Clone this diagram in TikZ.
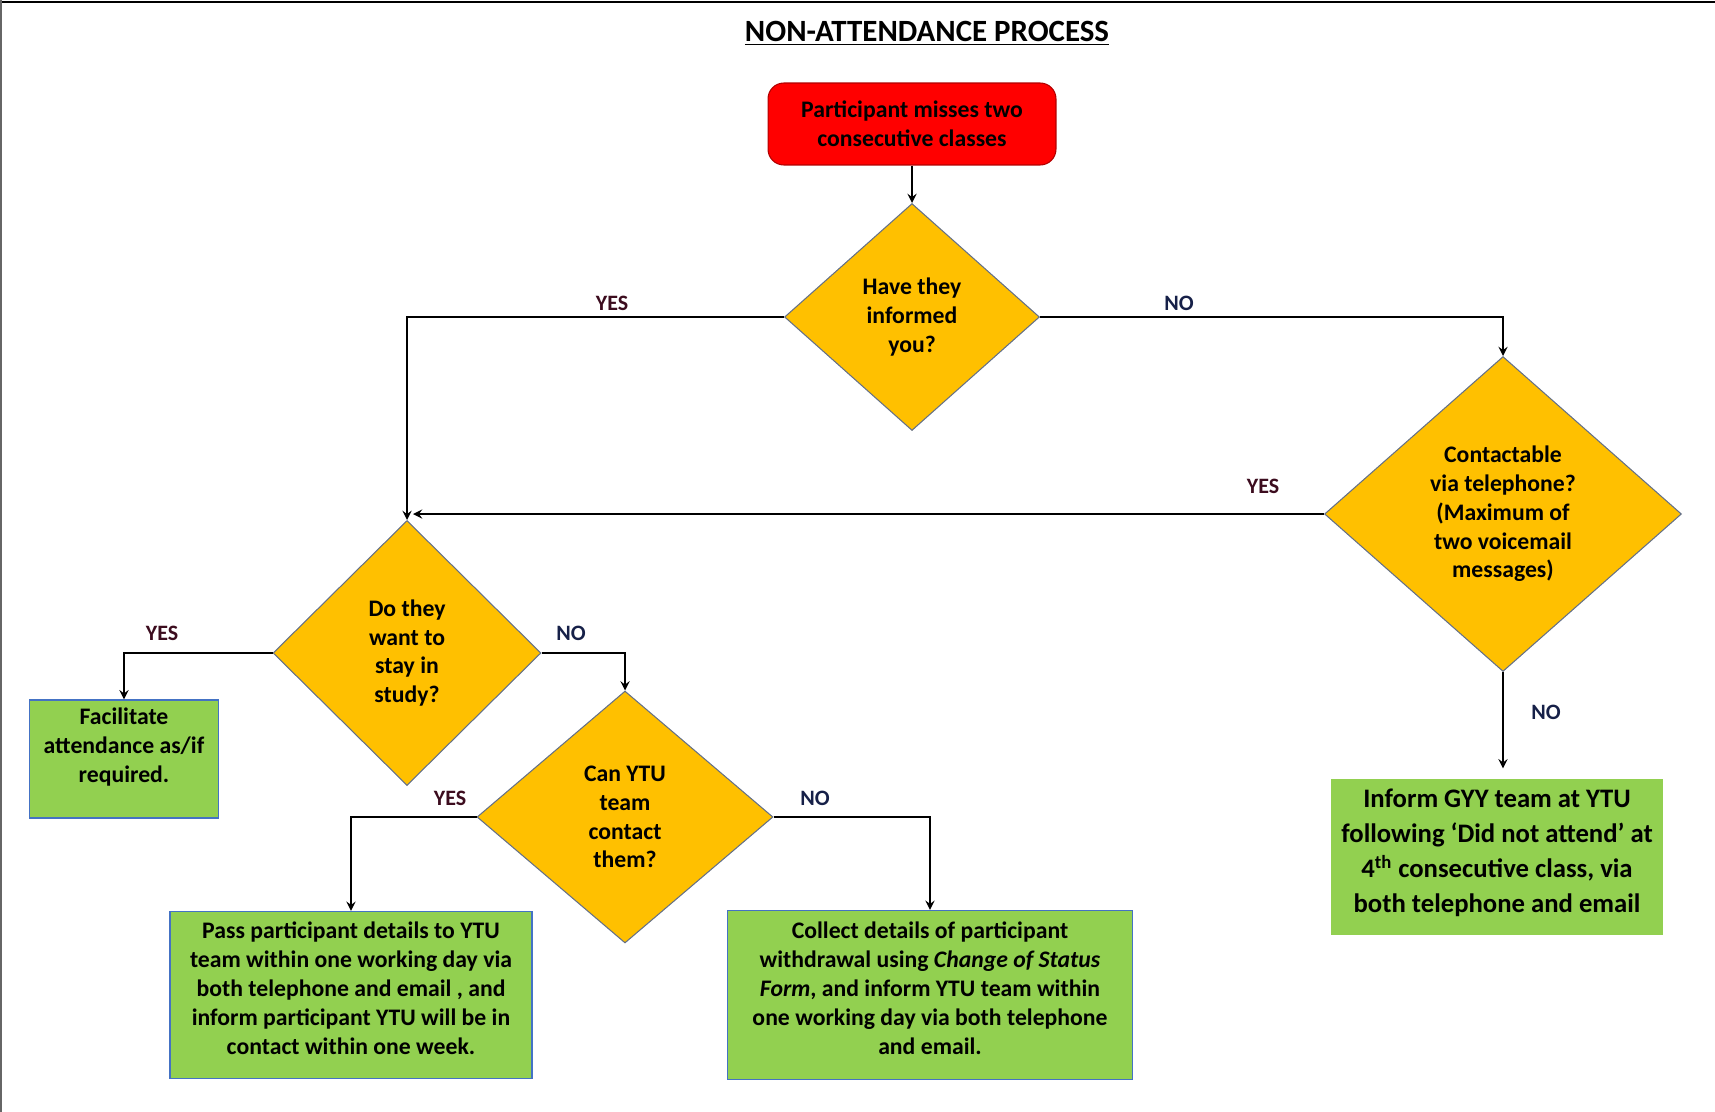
\documentclass[tikz,border=0pt]{standalone}
\usepackage{fontspec}
\setmainfont{Carlito}
\usetikzlibrary{positioning}
\usetikzlibrary{arrows,shapes}
\usetikzlibrary{calc}
\definecolor{gold}{RGB}{255,192,0}
\definecolor{leaf}{RGB}{146,208,80}
\definecolor{boxedge}{RGB}{68,114,196}
\definecolor{diaedge}{RGB}{100,112,135}
\definecolor{startred}{RGB}{255,0,0}
\definecolor{yescol}{RGB}{60,12,30}
\definecolor{nocol}{RGB}{22,32,72}
\newcommand{\bodyfont}{\fontsize{13.5}{16.4}\selectfont\bfseries}
\newcommand{\bigbodyfont}{\fontsize{15.2}{20}\selectfont\bfseries}
\newcommand{\answerfont}{\fontsize{12.5}{14}\selectfont\bfseries}
\tikzstyle{decision}=[diamond,fill=gold,draw=diaedge,line width=0.6pt,inner sep=0pt,align=center,font=\bodyfont]
\tikzstyle{startbox}=[rectangle,rounded corners=9pt,fill=startred,draw=red!70!black,line width=0.6pt,align=center,font=\bodyfont]
\tikzstyle{actionbox}=[rectangle,fill=leaf,draw=boxedge,line width=0.8pt,align=center,font=\bodyfont]
\tikzstyle{flow}=[->,>=stealth,line width=1.3pt]
\tikzstyle{yeslabel}=[font=\answerfont,text=yescol]
\tikzstyle{nolabel}=[font=\answerfont,text=nocol]

\begin{document}
\begin{tikzpicture}[x=0.02cm,y=-0.02cm]
\useasboundingbox (0,0) rectangle (1715,1112);

%frame
\draw[line width=1.7pt] (0,2) -- (1715,2);
\draw[black!60, line width=1.2pt] (1,0) -- (1,1112);

\node[font=\fontsize{17.6}{20}\selectfont\bfseries] (title) at (927,33) {\underline{NON-ATTENDANCE PROCESS}};

%boxes
\node[startbox, minimum width=5.76cm, minimum height=1.64cm] (start) at (912,124) {Participant misses two\\consecutive classes};
\node[decision, minimum width=5.1cm, minimum height=4.54cm] (informed) at (912,317) {Have they\\informed\\you?};
\node[decision, minimum width=7.14cm, minimum height=6.3cm] (phone) at (1503,514) {Contactable\\via telephone?\\(Maximum of\\two voicemail\\messages)};
\node[decision, minimum width=5.36cm, minimum height=5.3cm] (stay) at (407,653) {Do they\\want to\\stay in\\study?};
\node[decision, minimum width=5.92cm, minimum height=5.04cm] (contact) at (625,817) {Can YTU\\team\\contact\\them?};

\node[actionbox, minimum width=3.78cm, minimum height=2.36cm] (facil) at (124,759) {Facilitate\\attendance as/if\\required.\\[-1pt]};
\node[actionbox, minimum width=7.24cm, minimum height=3.34cm] (pass) at (351,995) {Pass participant details to YTU\\team within one working day via\\both telephone and email , and\\inform participant YTU will be in\\contact within one week.\\[-8.5pt]};
\node[actionbox, minimum width=8.1cm, minimum height=3.38cm] (collect) at (930,995) {Collect details of participant\\withdrawal using \textit{Change of Status}\\\textit{Form}, and inform YTU team within\\one working day via both telephone\\and email.\\[-8.5pt]};
\node[actionbox, draw=none, minimum width=6.66cm, minimum height=3.12cm, font=\bigbodyfont] (inform) at (1497,857) {Inform GYY team at YTU\\following ‘Did not attend’ at\\4\textsuperscript{th} consecutive class, via\\both telephone and email\\[-13pt]};

%arrows
\draw[flow] (start) -- (informed);
\foreach \source/\dest in {informed.west/stay.north, informed.east/phone.north, stay.west/facil.north, stay.east/contact.north, contact.west/pass.north, contact.east/collect.north}
    \draw[flow] (\source) -| (\dest);
\draw[flow] (phone.west) -- ([xshift=0.12cm]phone.west -| stay.north);
\draw[flow, shorten >=0.2cm] (phone.south) -- (phone.south |- inform.north);

%answers
\foreach \pos/\name in {(612,303)/yesInformed, (1263,486)/yesPhone, (162,633)/yesStay, (450,798)/yesContact}
    \node[yeslabel] (\name) at \pos {YES};
\foreach \pos/\name in {(1179,303)/noInformed, (1546,712)/noPhone, (571,633)/noStay, (815,798)/noContact}
    \node[nolabel] (\name) at \pos {NO};

\end{tikzpicture}
\end{document}
